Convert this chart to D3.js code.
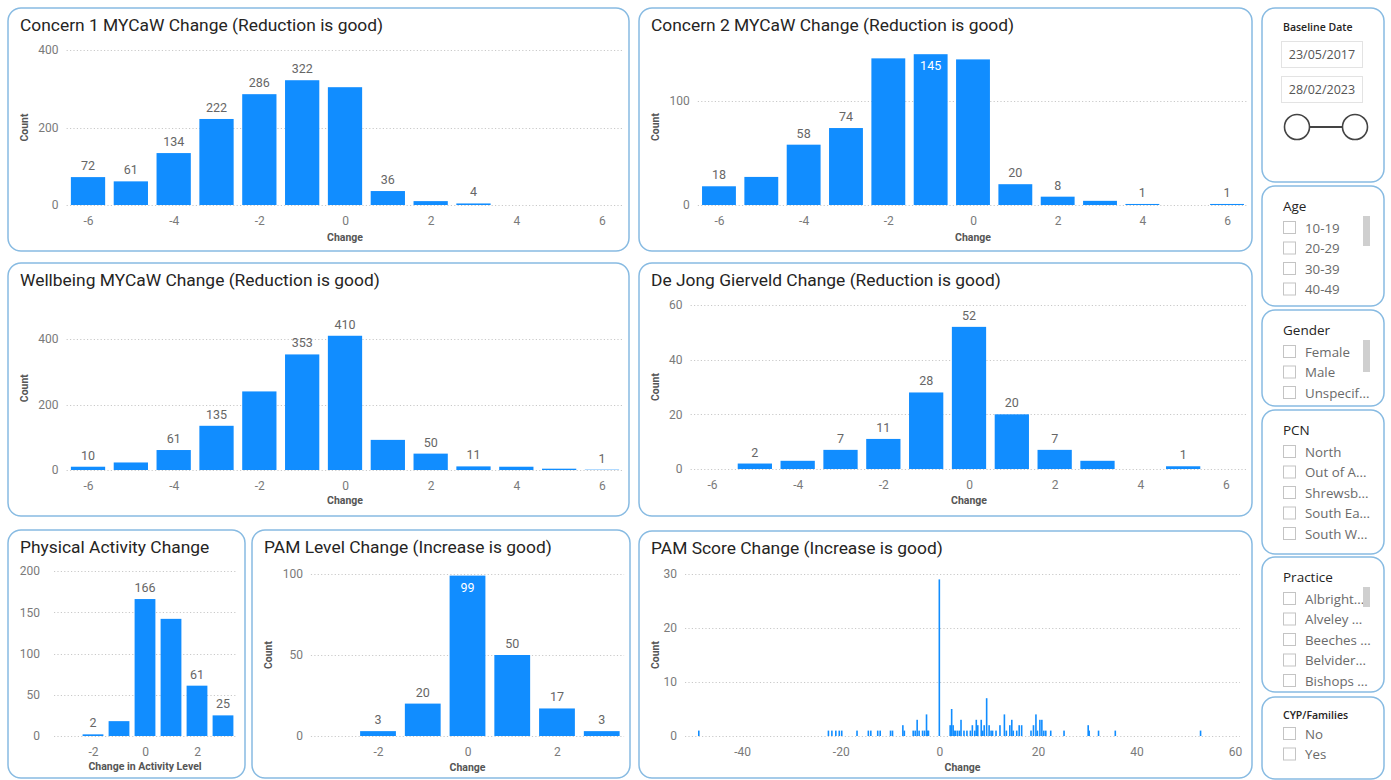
<!DOCTYPE html>
<html>
<head>
<meta charset="utf-8">
<script src="https://cdn.jsdelivr.net/npm/d3@7"></script>
<style>
  html, body { margin: 0; padding: 0; background: #ffffff; }
  svg { display: block; font-family: Roboto, "DejaVu Sans", sans-serif; }
</style>
</head>
<body>
<svg id="dash" width="1391" height="780"></svg>
<script>
// ---------- chart values ----------
const concern1Change   = [-6, -5, -4, -3, -2, -1, 0, 1, 2, 3];
const concern1Count    = [72, 61, 134, 222, 286, 322, 304, 36, 10, 4];
const concern1Labelled = [-6, -5, -4, -3, -2, -1, 1, 3];

const concern2Change   = [-6, -5, -4, -3, -2, -1, 0, 1, 2, 3, 4, 6];
const concern2Count    = [18, 27, 58, 74, 141, 145, 140, 20, 8, 4, 1, 1];
const concern2Labelled = [-6, -4, -3, -1, 1, 2, 4, 6];

const wellbeingChange   = [-6, -5, -4, -3, -2, -1, 0, 1, 2, 3, 4, 5, 6];
const wellbeingCount    = [10, 23, 61, 135, 240, 353, 410, 92, 50, 11, 10, 4, 1];
const wellbeingLabelled = [-6, -4, -3, -1, 0, 2, 3, 6];

const deJongChange   = [-5, -4, -3, -2, -1, 0, 1, 2, 3, 5];
const deJongCount    = [2, 3, 7, 11, 28, 52, 20, 7, 3, 1];
const deJongLabelled = [-5, -3, -2, -1, 0, 1, 2, 5];

const activityChange   = [-2, -1, 0, 1, 2, 3];
const activityCount    = [2, 18, 166, 142, 61, 25];
const activityLabelled = [-2, 0, 2, 3];

const pamLevelChange   = [-2, -1, 0, 1, 2, 3];
const pamLevelCount    = [3, 20, 99, 50, 17, 3];
const pamLevelLabelled = [-2, -1, 0, 1, 2, 3];

const pamScoreChange = [-48.8, -22.5, -21.8, -21.0, -20.3, -19.8, -16.7, -14.4, -13.9, -12.5, -12.0,
  -9.9, -9.5, -7.4, -7.1, -5.3, -4.9, -4.5, -4.1, -3.4, -3.0, -2.6, -2.4, -2.2, 0,
  2.2, 2.5, 2.8, 3.0, 3.3, 3.7, 4.1, 4.4, 5.0, 5.6, 6.3, 6.7, 7.2, 7.5, 7.8, 8.5, 8.8, 9.1,
  9.6, 10.1, 10.5, 10.8, 11.5, 12.3, 13.2, 13.6, 14.3, 14.7, 15.0, 15.7, 16.2, 16.7, 18.6,
  19.1, 19.6, 19.9, 20.4, 20.8, 21.2, 21.6, 22.6, 25.3, 30.2, 30.4, 32.3, 35.7, 53.0];
const pamScoreCount = [1, 1, 1, 1, 1, 1, 1, 1, 1, 1, 1,
  1, 1, 2, 1, 1, 1, 3, 1, 1, 1, 4, 1, 1, 29,
  2, 5, 2, 1, 1, 1, 1, 3, 1, 1, 1, 2, 1, 3, 2, 3, 1, 2,
  7, 2, 1, 1, 1, 2, 4, 1, 2, 3, 1, 1, 2, 2, 1,
  2, 4, 1, 3, 3, 1, 1, 1, 1, 2, 1, 1, 1, 1];

// ---------- tick values ----------
const mycawXTicks     = [-6, -4, -2, 0, 2, 4, 6];
const concern1YTicks  = [0, 200, 400];
const concern2YTicks  = [0, 100];
const wellbeingYTicks = [0, 200, 400];
const deJongYTicks    = [0, 20, 40, 60];
const smallXTicks     = [-2, 0, 2];
const activityYTicks  = [0, 50, 100, 150, 200];
const pamLevelYTicks  = [0, 50, 100];
const pamScoreXTicks  = [-40, -20, 0, 20, 40, 60];
const pamScoreYTicks  = [0, 10, 20, 30];

// ---------- slicer options ----------
const baselineDates   = ["23/05/2017", "28/02/2023"];
const ageOptions      = ["10-19", "20-29", "30-39", "40-49"];
const genderOptions   = ["Female", "Male", "Unspecif..."];
const pcnOptions      = ["North", "Out of A...", "Shrewsb...", "South Ea...", "South W..."];
const practiceOptions = ["Albright...", "Alveley ...", "Beeches ...", "Belvider...", "Bishops ..."];
const cypOptions      = ["No", "Yes"];

// ---------- styling ----------
const BAR = "#118DFF";
const BORDER = "#88bbe2";
const TITLE = "#252423";
const TICK = "#7a7a7a";
const LABEL = "#666666";

const svg = d3.select("#dash");

function panel(box) {
  svg.append("rect")
    .attr("x", box[0]).attr("y", box[1])
    .attr("width", box[2]).attr("height", box[3])
    .attr("rx", 13).attr("ry", 13)
    .attr("fill", "#ffffff")
    .attr("stroke", BORDER).attr("stroke-width", 1.5);
}

function drawChart(c) {
  panel(c.box);
  const g = svg.append("g");
  const x = d3.scaleLinear().domain(c.xDomain).range(c.xRange);
  const y = d3.scaleLinear().domain(c.yDomain).range(c.yRange);

  // title
  g.append("text")
    .attr("x", c.box[0] + 12).attr("y", c.box[1] + 23)
    .attr("fill", TITLE).attr("font-size", 17.4).attr("font-weight", 400)
    .text(c.title);

  // dotted gridlines
  g.append("g").selectAll("line").data(c.yTicks).join("line")
    .attr("x1", c.xRange[0]).attr("x2", c.xRange[1])
    .attr("y1", d => Math.round(y(d)) + 0.5).attr("y2", d => Math.round(y(d)) + 0.5)
    .attr("stroke", "#c9c9c9").attr("stroke-width", 1)
    .attr("stroke-dasharray", "1.2 2.2");

  // y axis
  const ya = g.append("g")
    .attr("transform", `translate(${c.xRange[0]},0)`)
    .call(d3.axisLeft(y).tickValues(c.yTicks).tickSize(0)
      .tickPadding(c.yPad).tickFormat(d => String(d)));
  ya.select(".domain").remove();
  ya.selectAll("text").attr("fill", TICK).attr("font-size", 12)
    .attr("font-family", "Roboto, sans-serif");

  // x axis
  const xa = g.append("g")
    .attr("transform", `translate(0,${c.yRange[0]})`)
    .call(d3.axisBottom(x).tickValues(c.xTicks).tickSize(0)
      .tickPadding(11).tickFormat(d => String(d)));
  xa.select(".domain").remove();
  xa.selectAll("text").attr("fill", TICK).attr("font-size", 12)
    .attr("font-family", "Roboto, sans-serif");

  // axis titles
  g.append("text")
    .attr("x", (c.xRange[0] + c.xRange[1]) / 2).attr("y", c.yRange[0] + c.xTitleDy)
    .attr("text-anchor", "middle").attr("fill", "#555").attr("font-size", 10.5)
    .attr("font-weight", 700).text(c.xTitle);
  if (c.yTitle) {
    const cy = (c.yRange[0] + c.yRange[1]) / 2;
    g.append("text")
      .attr("transform", `translate(${c.box[0] + 20},${cy}) rotate(-90)`)
      .attr("text-anchor", "middle").attr("fill", "#555").attr("font-size", 10.5)
      .attr("font-weight", 700).text(c.yTitle);
  }

  // bars
  const rows = c.change.map((v, i) => ({ v, n: c.count[i] }));
  const bw = c.barPx != null ? c.barPx : (x(c.barUnits) - x(0));
  g.append("g").selectAll("rect").data(rows).join("rect")
    .attr("x", d => x(d.v) - bw / 2).attr("width", bw)
    .attr("y", d => y(d.n)).attr("height", d => y(0) - y(d.n))
    .attr("fill", BAR);

  // data labels: above the bar, or inside in white when there is no room
  if (c.labelled) {
    const top = c.yRange[1];
    g.append("g").selectAll("text")
      .data(rows.filter(d => c.labelled.includes(d.v))).join("text")
      .attr("x", d => x(d.v))
      .attr("y", d => (y(d.n) - 20 < top) ? y(d.n) + 16 : y(d.n) - 7)
      .attr("fill", d => (y(d.n) - 20 < top) ? "#ffffff" : LABEL)
      .attr("text-anchor", "middle").attr("font-size", 12.5)
      .text(d => d.n);
  }
}

const charts = [
  { title: "Concern 1 MYCaW Change (Reduction is good)", box: [8, 8, 621, 243],
    change: concern1Change, count: concern1Count, labelled: concern1Labelled,
    xDomain: [-6.5, 6.5], xRange: [66.6, 623.4], yDomain: [0, 400], yRange: [205, 50],
    xTicks: mycawXTicks, yTicks: concern1YTicks, barUnits: 0.8, yPad: 8,
    xTitle: "Change", yTitle: "Count", xTitleDy: 36 },
  { title: "Concern 2 MYCaW Change (Reduction is good)", box: [639, 8, 613, 243],
    change: concern2Change, count: concern2Count, labelled: concern2Labelled,
    xDomain: [-6.5, 6.5], xRange: [697.8, 1248.2], yDomain: [0, 150], yRange: [205, 49],
    xTicks: mycawXTicks, yTicks: concern2YTicks, barUnits: 0.8, yPad: 8,
    xTitle: "Change", yTitle: "Count", xTitleDy: 36 },
  { title: "Wellbeing MYCaW Change (Reduction is good)", box: [8, 263, 621, 253],
    change: wellbeingChange, count: wellbeingCount, labelled: wellbeingLabelled,
    xDomain: [-6.5, 6.5], xRange: [66.6, 623.4], yDomain: [0, 500], yRange: [470, 306.3],
    xTicks: mycawXTicks, yTicks: wellbeingYTicks, barUnits: 0.8, yPad: 8,
    xTitle: "Change", yTitle: "Count", xTitleDy: 34 },
  { title: "De Jong Gierveld Change (Reduction is good)", box: [639, 263, 613, 253],
    change: deJongChange, count: deJongCount, labelled: deJongLabelled,
    xDomain: [-6.5, 6.5], xRange: [690.6, 1247.4], yDomain: [0, 60], yRange: [469, 305],
    xTicks: mycawXTicks, yTicks: deJongYTicks, barUnits: 0.8, yPad: 8,
    xTitle: "Change", yTitle: "Count", xTitleDy: 35 },
  { title: "Physical Activity Change", box: [8, 530, 237, 248],
    change: activityChange, count: activityCount, labelled: activityLabelled,
    xDomain: [-3.5, 3.5], xRange: [54, 236], yDomain: [0, 200], yRange: [736, 571],
    xTicks: smallXTicks, yTicks: activityYTicks, barUnits: 0.8, yPad: 14,
    xTitle: "Change in Activity Level", yTitle: null, xTitleDy: 34 },
  { title: "PAM Level Change (Increase is good)", box: [252, 530, 378, 248],
    change: pamLevelChange, count: pamLevelCount, labelled: pamLevelLabelled,
    xDomain: [-3.5, 3.5], xRange: [310.9, 624.1], yDomain: [0, 100], yRange: [736, 574],
    xTicks: smallXTicks, yTicks: pamLevelYTicks, barUnits: 0.8, yPad: 8,
    xTitle: "Change", yTitle: "Count", xTitleDy: 35 },
  { title: "PAM Score Change (Increase is good)", box: [639, 531, 613, 247],
    change: pamScoreChange, count: pamScoreCount, labelled: null,
    xDomain: [-51.6, 61], xRange: [685, 1240], yDomain: [0, 30], yRange: [736, 574],
    xTicks: pamScoreXTicks, yTicks: pamScoreYTicks, barPx: 1.6, yPad: 8,
    xTitle: "Change", yTitle: "Count", xTitleDy: 35 }
];
charts.forEach(drawChart);

// ---------- slicers ----------
const SX = 1262, SW = 122;
let clipId = 0;

function slicerPanel(y0, h) {
  panel([SX, y0, SW, h]);
  const id = "clip" + (clipId++);
  svg.append("clipPath").attr("id", id)
    .append("rect").attr("x", SX + 1).attr("y", y0 + 1)
    .attr("width", SW - 2).attr("height", h - 3).attr("rx", 12);
  return svg.append("g").attr("clip-path", `url(#${id})`)
    .attr("font-family", "'Open Sans', 'Noto Sans', sans-serif");
}

function listSlicer(y0, h, title, options, opts) {
  const g = slicerPanel(y0, h);
  const small = opts && opts.small;
  g.append("text").attr("x", SX + 21).attr("y", y0 + (small ? 22 : 25))
    .attr("fill", TITLE).attr("font-size", small ? 10.5 : 13.5)
    .attr("font-weight", small ? 600 : 400).text(title);
  const first = y0 + (opts && opts.firstRow != null ? opts.firstRow : 42);
  const rows = g.selectAll("g.row").data(options).join("g")
    .attr("transform", (d, i) => `translate(0,${first + i * 20.5})`);
  rows.append("rect").attr("x", SX + 21.5).attr("y", -6.5)
    .attr("width", 12).attr("height", 12)
    .attr("fill", "#fff").attr("stroke", "#c4c4c4").attr("stroke-width", 1);
  rows.append("text").attr("x", SX + 43).attr("y", 4.5)
    .attr("fill", "#6a6a6a").attr("font-size", 13.3).text(d => d);
  if (opts && opts.scroll) {
    g.append("rect").attr("x", SX + 101).attr("y", opts.scroll[0])
      .attr("width", 7).attr("height", opts.scroll[1] - opts.scroll[0])
      .attr("fill", "#cfcfcf");
  }
}

// baseline date range slicer
{
  const g = slicerPanel(8, 174);
  g.append("text").attr("x", SX + 21).attr("y", 31)
    .attr("fill", TITLE).attr("font-size", 10.5).attr("font-weight", 600)
    .text("Baseline Date");
  g.selectAll("g.date").data(baselineDates).join("g")
    .attr("transform", (d, i) => `translate(${SX + 19.5},${41.5 + i * 35})`)
    .each(function (d) {
      const s = d3.select(this);
      s.append("rect").attr("width", 81).attr("height", 26)
        .attr("fill", "#fff").attr("stroke", "#e3e3e3");
      s.append("text").attr("x", 40.5).attr("y", 17.5).attr("text-anchor", "middle")
        .attr("fill", "#555").attr("font-size", 12.5).text(d);
    });
  g.append("line").attr("x1", SX + 47).attr("x2", SX + 86).attr("y1", 127).attr("y2", 127)
    .attr("stroke", "#444").attr("stroke-width", 2);
  [SX + 35, SX + 93].forEach(cx => {
    g.append("circle").attr("cx", cx).attr("cy", 127).attr("r", 12.5)
      .attr("fill", "#fff").attr("stroke", "#444").attr("stroke-width", 1.6);
  });
}

listSlicer(186, 120, "Age", ageOptions, { scroll: [216, 246] });
listSlicer(310, 96, "Gender", genderOptions, { scroll: [340, 372] });
listSlicer(410, 144, "PCN", pcnOptions, {});
listSlicer(557, 135, "Practice", practiceOptions, { scroll: [587, 607] });
listSlicer(697, 82, "CYP/Families", cypOptions, { small: true, firstRow: 37 });
</script>
</body>
</html>
